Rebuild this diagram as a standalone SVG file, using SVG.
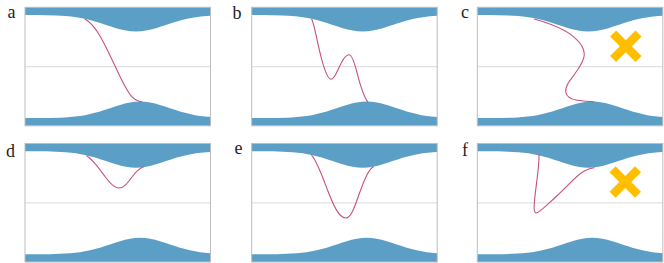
<svg xmlns="http://www.w3.org/2000/svg" xmlns:xlink="http://www.w3.org/1999/xlink" width="664" height="263" viewBox="0 0 664 263">
<style>
.band{fill:#5b9fc7;stroke:none}
.frame{fill:none;stroke:#bdbdbd;stroke-width:1}
.mid{stroke:#dadada;stroke-width:1}
.curve{fill:none;stroke:#c8507d;stroke-width:1.1;stroke-linecap:round;stroke-linejoin:round}
.cross{stroke:#ffbf00;stroke-width:8.5;stroke-linecap:butt}
</style>
<defs>
<g id="base">
<line class="mid" x1="0" y1="59.4" x2="185.5" y2="59.4"/>
<path class="band" d="M0,0 H185.5 V8.41 L181,8.73 L176,9.2 L171,9.85 L166,10.67 L161,11.69 L156,12.94 L151,14.37 L146,15.94 L141,17.6 L136,19.28 L131,20.85 L126,22.22 L121,23.29 L116,23.97 L111,24.2 L106,23.97 L101,23.29 L96,22.22 L91,20.85 L86,19.28 L81,17.6 L76,15.94 L71,14.37 L66,12.94 L61,11.69 L56,10.67 L51,9.85 L46,9.2 L41,8.73 L36,8.38 L31,8.14 L21,7.87 L11,7.76 L0,7.7 Z"/>
<path class="band" d="M0,118.5 V110.8 L15,110.74 L25,110.63 L35,110.36 L40,110.12 L45,109.77 L50,109.3 L55,108.65 L60,107.83 L65,106.81 L70,105.56 L75,104.13 L80,102.56 L85,100.9 L90,99.22 L95,97.65 L100,96.28 L105,95.21 L110,94.53 L115,94.3 L120,94.53 L125,95.21 L130,96.28 L135,97.65 L140,99.22 L145,100.9 L150,102.56 L155,104.13 L160,105.56 L165,106.81 L170,107.83 L175,108.65 L180,109.3 L185.5,109.81 V118.5 Z"/>
<rect class="frame" x="0" y="0" width="185.5" height="118.5"/>
</g>
<g id="xmark">
<line class="cross" x1="-12.7" y1="-12.7" x2="12.7" y2="12.7"/>
<line class="cross" x1="-12.7" y1="12.7" x2="12.7" y2="-12.7"/>
</g>
</defs>

<g font-family="'Liberation Serif', 'DejaVu Serif', serif" font-size="18" fill="#222">
<g id="panel-a">
<text x="7.5" y="17.5">a</text>
<g transform="translate(25,7.3)">
<use xlink:href="#base"/>
<path class="curve" d="M60,11.7 C70,18 76,30 82,42 C87,52 94,68 100,79 C105,88 109,94 116.7,94.4"/>
</g>
</g>

<g id="panel-b">
<text x="232.5" y="19">b</text>
<g transform="translate(251.7,7.3)">
<use xlink:href="#base"/>
<path class="curve" d="M60,11.7 C63,18 66,38 70,52 C73,63 76,72 79.5,72 C83,72 86,62 90,55 C93,49 95,47.5 97.5,47.5 C100,47.5 102,53 105,64 C108,76 111,88 116,94.4"/>
</g>
</g>

<g id="panel-c">
<text x="461" y="17.5">c</text>
<g transform="translate(477.3,7.3)">
<use xlink:href="#base"/>
<path class="curve" d="M57,11.7 C72,16 88,22 97,30 C104,36 107,41 107,47 C107,55 100,63 95,70 C90,76 88,80 88.4,84.4 C89,89 94,92 100,93 C106,94 111,94.4 116.7,94.4"/>
<use xlink:href="#xmark" transform="translate(148.5,38.9)"/>
</g>
</g>

<g id="panel-d">
<text x="6" y="156.5">d</text>
<g transform="translate(25,143.5)">
<use xlink:href="#base"/>
<path class="curve" d="M61.7,12.3 C68,16 74,25 80,33 C85,40 89,44.5 94,44.5 C99,44.5 103,39 107,33.5 C111,28 114,25 118.3,23.5"/>
</g>
</g>

<g id="panel-e">
<text x="234.5" y="153.5">e</text>
<g transform="translate(251.7,143.5)">
<use xlink:href="#base"/>
<path class="curve" d="M60,11.8 C65,17 70,31 76,47 C81,60 87,74.5 94,74.5 C100,74.5 104,60 108,49 C112,38 116,27 121.6,23.3"/>
</g>
</g>

<g id="panel-f">
<text x="462" y="156">f</text>
<g transform="translate(477.3,143.5)">
<use xlink:href="#base"/>
<path class="curve" d="M61.7,11.3 C62,25 58,45 57,60 C56.5,66 57,69.5 59,69.5 C62,69.5 70,61 80,52 C90,43 98,33 106,28 C110,25.5 113,24.5 116.7,24.2"/>
<use xlink:href="#xmark" transform="translate(148,38.5)"/>
</g>
</g>
</g>
</svg>
